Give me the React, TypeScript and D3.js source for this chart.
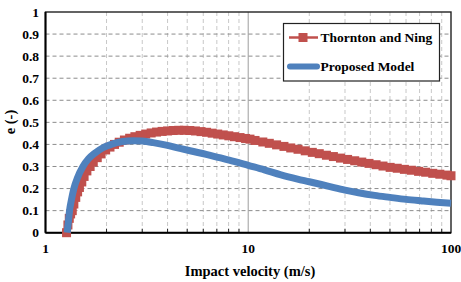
import React, { useEffect, useRef } from "react";
import * as d3 from "d3";

// Thornton and Ning restitution curve (impact velocity m/s, e)
const thorntonV = [
  1.27, 1.29, 1.31, 1.33, 1.355, 1.38, 1.41, 1.44, 1.47, 1.51, 1.55, 1.6, 1.66,
  1.72, 1.8, 1.88, 1.98, 2.08, 2.19, 2.31, 2.45, 2.6, 2.76, 2.93, 3.12, 3.32,
  3.53, 3.76, 4.0, 4.26, 4.54, 4.84, 5.15, 5.49, 5.85, 6.23, 6.64, 7.07, 7.53,
  8.02, 8.55, 9.11, 9.7, 10.2, 10.8, 11.8, 12.7, 13.8, 15.0, 16.2, 17.6, 19.1,
  20.7, 22.4, 24.3, 26.3, 28.5, 30.9, 33.5, 36.3, 39.4, 42.7, 46.2, 50.1, 54.3,
  58.9, 63.8, 69.2, 75.0, 81.3, 88.1, 95.5, 100,
];
const thorntonE = [
  0.0, 0.035, 0.065, 0.085, 0.1, 0.13, 0.16, 0.185, 0.205, 0.23, 0.255, 0.28,
  0.3, 0.32, 0.34, 0.357, 0.375, 0.388, 0.4, 0.41, 0.42, 0.428, 0.435, 0.441,
  0.447, 0.452, 0.456, 0.459, 0.461, 0.463, 0.464, 0.464, 0.463, 0.461, 0.458,
  0.455, 0.451, 0.447, 0.443, 0.439, 0.435, 0.431, 0.427, 0.424, 0.418, 0.411,
  0.405, 0.398, 0.391, 0.384, 0.378, 0.371, 0.364, 0.358, 0.351, 0.345, 0.338,
  0.332, 0.326, 0.32, 0.314, 0.308, 0.302, 0.296, 0.292, 0.287, 0.283, 0.278,
  0.274, 0.269, 0.265, 0.261, 0.258,
];

// Proposed model curve
const modelV = [
  1.28, 1.3, 1.314, 1.34, 1.38, 1.44, 1.53, 1.63, 1.75, 1.92, 2.11, 2.4, 2.7,
  3.0, 3.4, 3.94, 4.6, 5.3, 6.2, 7.2, 8.5, 10.0, 12.0, 14.5, 17.5, 20, 25, 30,
  35, 42, 50, 60, 72, 85, 100,
];
const modelE = [
  0.0, 0.06, 0.1, 0.145, 0.2, 0.25, 0.3, 0.335, 0.36, 0.385, 0.4, 0.413, 0.417,
  0.415, 0.408, 0.397, 0.382, 0.369, 0.355, 0.34, 0.323, 0.305, 0.285, 0.262,
  0.243, 0.231, 0.21, 0.193, 0.181, 0.169, 0.16, 0.151, 0.144, 0.138, 0.133,
];

const yTicks = [0, 0.1, 0.2, 0.3, 0.4, 0.5, 0.6, 0.7, 0.8, 0.9, 1];
const xMajor = [1, 10, 100];
const seriesNames = ["Thornton and Ning", "Proposed Model"];

const RED = "#c0504d";
const BLUE = "#4f81bd";
const FONT = "Liberation Serif, Times New Roman, DejaVu Serif, serif";

const RestitutionChart: React.FC = () => {
  const svgRef = useRef<SVGSVGElement>(null);
  const width = 461;
  const height = 282;

  useEffect(() => {
    if (!svgRef.current) return;
    const svg = d3.select(svgRef.current);
    svg.selectAll("*").remove();

    const left = 45.5;
    const right = 451;
    const top = 12;
    const bottom = 232.7;

    const x = d3.scaleLog().domain([1, 100]).range([left, right]);
    const y = d3.scaleLinear().domain([0, 1]).range([bottom, top]);

    // minor decade ticks 2..9, 20..90
    const minor: number[] = [];
    [1, 10].forEach((d) => {
      for (let k = 2; k <= 9; k++) minor.push(d * k);
    });

    const grid = svg.append("g");
    grid
      .selectAll("line.vminor")
      .data(minor)
      .enter()
      .append("line")
      .attr("x1", (d) => x(d))
      .attr("x2", (d) => x(d))
      .attr("y1", top)
      .attr("y2", bottom)
      .attr("stroke", "#c8c8c8")
      .attr("stroke-width", 1)
      .attr("stroke-dasharray", "4,3");

    grid
      .append("line")
      .attr("x1", x(10))
      .attr("x2", x(10))
      .attr("y1", top)
      .attr("y2", bottom)
      .attr("stroke", "#b4b4b4")
      .attr("stroke-width", 1.3);

    grid
      .selectAll("line.h")
      .data(yTicks.slice(1, -1))
      .enter()
      .append("line")
      .attr("x1", left)
      .attr("x2", right)
      .attr("y1", (d) => y(d))
      .attr("y2", (d) => y(d))
      .attr("stroke", "#8c8c8c")
      .attr("stroke-width", 1)
      .attr("stroke-dasharray", "4,3");

    // frame
    svg
      .append("rect")
      .attr("x", left)
      .attr("y", top)
      .attr("width", right - left)
      .attr("height", bottom - top)
      .attr("fill", "none")
      .attr("stroke", "#222")
      .attr("stroke-width", 1.4);

    // minor tick marks on the x axis
    svg
      .selectAll("line.tick")
      .data(minor)
      .enter()
      .append("line")
      .attr("x1", (d) => x(d))
      .attr("x2", (d) => x(d))
      .attr("y1", bottom)
      .attr("y2", bottom - 4)
      .attr("stroke", "#222")
      .attr("stroke-width", 1);

    // axes
    svg
      .append("line")
      .attr("x1", left)
      .attr("x2", left)
      .attr("y1", top)
      .attr("y2", bottom)
      .attr("stroke", "#000")
      .attr("stroke-width", 2);
    svg
      .append("line")
      .attr("x1", left)
      .attr("x2", right)
      .attr("y1", bottom)
      .attr("y2", bottom)
      .attr("stroke", "#000")
      .attr("stroke-width", 2);

    // Thornton and Ning: square markers over a thin line
    const red = thorntonV.map((v, i) => [v, thorntonE[i]] as [number, number]);
    const line = d3
      .line<[number, number]>()
      .x((d) => x(d[0]))
      .y((d) => y(d[1]));
    svg
      .append("path")
      .attr("d", line(red))
      .attr("fill", "none")
      .attr("stroke", RED)
      .attr("stroke-width", 2.5);
    const ms = 9;
    svg
      .selectAll("rect.mk")
      .data(red)
      .enter()
      .append("rect")
      .attr("x", (d) => x(d[0]) - ms / 2)
      .attr("y", (d) => y(d[1]) - ms / 2)
      .attr("width", ms)
      .attr("height", ms)
      .attr("fill", RED);

    // Proposed model: thick smooth line
    const blue = modelV.map((v, i) => [v, modelE[i]] as [number, number]);
    svg
      .append("path")
      .attr("d", line.curve(d3.curveMonotoneX)(blue))
      .attr("fill", "none")
      .attr("stroke", BLUE)
      .attr("stroke-width", 7);

    const txt = (sel: any, size: string) =>
      sel
        .attr("font-family", FONT)
        .attr("font-weight", "bold")
        .attr("font-size", size)
        .attr("fill", "#000");

    // tick labels
    txt(
      svg
        .selectAll("text.yt")
        .data(yTicks)
        .enter()
        .append("text")
        .attr("x", 39)
        .attr("y", (d: number) => y(d))
        .attr("dy", "0.35em")
        .attr("text-anchor", "end")
        .text((d: number) => String(d)),
      "13.5px"
    );

    txt(
      svg
        .selectAll("text.xt")
        .data(xMajor)
        .enter()
        .append("text")
        .attr("x", (d: number) => x(d))
        .attr("y", 253)
        .attr("text-anchor", "middle")
        .text((d: number) => String(d)),
      "13.5px"
    );

    txt(
      svg
        .append("text")
        .attr("x", 250)
        .attr("y", 276)
        .attr("text-anchor", "middle")
        .text("Impact velocity (m/s)"),
      "14.5px"
    );

    txt(
      svg
        .append("text")
        .attr("transform", "translate(15,122) rotate(-90)")
        .attr("text-anchor", "middle")
        .text("e (-)"),
      "14.5px"
    );

    // legend
    const lg = svg.append("g");
    lg.append("rect")
      .attr("x", 283.5)
      .attr("y", 23.5)
      .attr("width", 156)
      .attr("height", 57.5)
      .attr("fill", "#fff")
      .attr("stroke", "#222")
      .attr("stroke-width", 1.2);

    const rows = [37.5, 66.5];
    lg.append("line")
      .attr("x1", 289)
      .attr("x2", 318)
      .attr("y1", rows[0])
      .attr("y2", rows[0])
      .attr("stroke", RED)
      .attr("stroke-width", 2.5);
    lg.append("rect")
      .attr("x", 303 - ms / 2)
      .attr("y", rows[0] - ms / 2)
      .attr("width", ms)
      .attr("height", ms)
      .attr("fill", RED);
    lg.append("line")
      .attr("x1", 290)
      .attr("x2", 317)
      .attr("y1", rows[1])
      .attr("y2", rows[1])
      .attr("stroke", BLUE)
      .attr("stroke-width", 6)
      .attr("stroke-linecap", "round");

    txt(
      lg
        .selectAll("text.lg")
        .data(seriesNames)
        .enter()
        .append("text")
        .attr("x", 320.5)
        .attr("y", (d: string, i: number) => rows[i])
        .attr("dy", "0.35em")
        .text((d: string) => d),
      "13.5px"
    );
  }, []);

  return (
    <svg
      ref={svgRef}
      width={width}
      height={height}
      viewBox={`0 0 ${width} ${height}`}
      style={{ position: "absolute", left: 0, top: 0, background: "#fff" }}
    />
  );
};

export default function App() {
  return <RestitutionChart />;
}
